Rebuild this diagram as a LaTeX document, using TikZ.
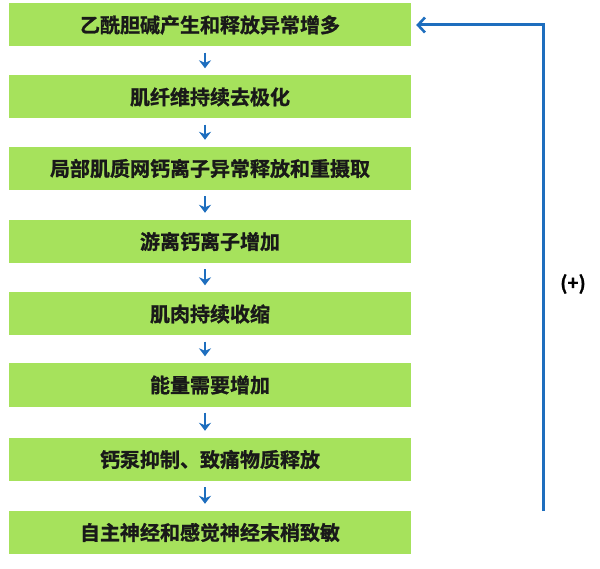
\documentclass[tikz,border=0pt]{standalone}
\usepackage{fontspec}
\setmainfont{Noto Sans CJK SC}[BoldFont={Noto Sans CJK SC Bold},BoldFeatures={FakeBold=1.2}]
\usetikzlibrary{arrows.meta}
\definecolor{boxgreen}{RGB}{166,226,92}
\definecolor{arrowblue}{RGB}{30,110,190}
\begin{document}
\begin{tikzpicture}[x=1pt,y=-1pt,
  stepbox/.style={fill=boxgreen,draw=none,minimum width=402pt,minimum height=43pt,inner sep=0pt,font=\fontsize{20}{22}\selectfont\bfseries,text=black!90},
  flow/.style={draw=arrowblue,line width=2.8pt,-{Stealth[length=8pt,width=12pt,inset=2.5pt]}},
  loop/.style={draw=arrowblue,line width=3pt,-{Straight Barb[length=7pt,width=15pt,line width=2.6pt]}}]
\useasboundingbox (0,0) rectangle (600,569);
\node[stepbox] (b1) at (210,25) {乙酰胆碱产生和释放异常增多};
\node[stepbox] (b2) at (210,97) {肌纤维持续去极化};
\node[stepbox] (b3) at (210,168.5) {局部肌质网钙离子异常释放和重摄取};
\node[stepbox] (b4) at (210,241.5) {游离钙离子增加};
\node[stepbox] (b5) at (210,314) {肌肉持续收缩};
\node[stepbox] (b6) at (210,385) {能量需要增加};
\node[stepbox] (b7) at (210,459.5) {钙泵抑制、致痛物质释放};
\node[stepbox] (b8) at (210,532.5) {自主神经和感觉神经末梢致敏};
\foreach \a/\b in {b1/b2,b2/b3,b3/b4,b4/b5,b5/b6,b6/b7,b7/b8}{
  \draw[flow] ([xshift=-5pt,yshift=-6pt]\a.south) -- ([xshift=-5pt,yshift=7pt]\b.north);
}
\coordinate (c1) at (543,511);
\coordinate (c2) at (543,25);
\draw[loop] (c1) -- (c2) -- ([xshift=5pt]b1.east);
\node[font=\fontsize{19}{22}\selectfont\bfseries] (plus) at (573,284) {(+)};
\end{tikzpicture}
\end{document}
